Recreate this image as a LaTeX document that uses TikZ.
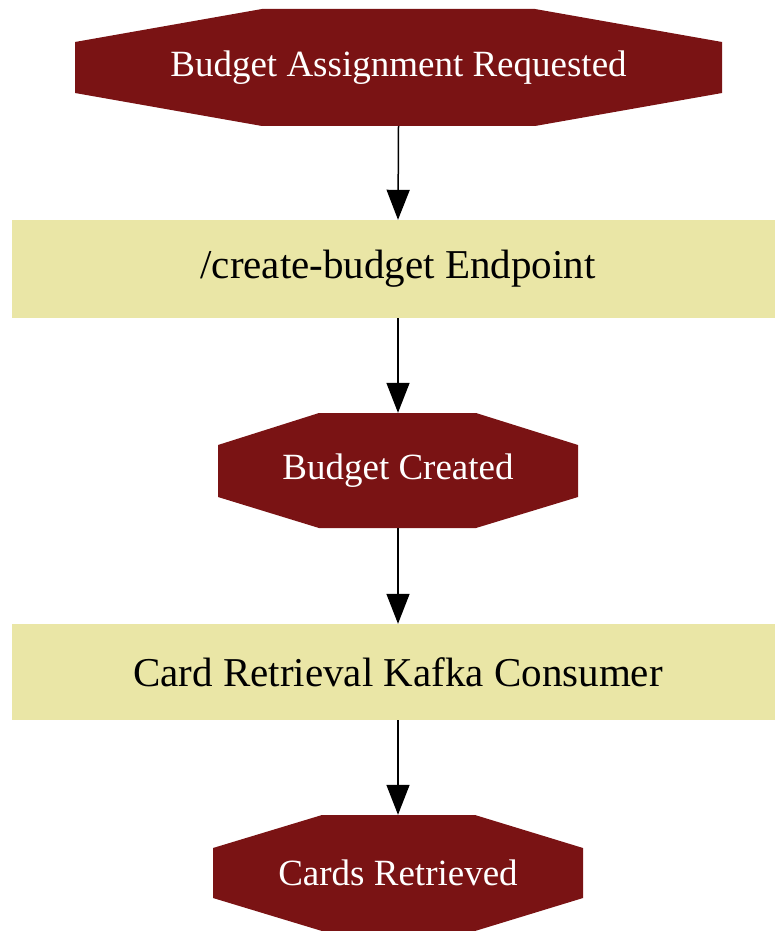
\documentclass[tikz,border=0pt]{standalone}
\usepackage{fontspec}
\setmainfont{Liberation Serif}
\usetikzlibrary{arrows.meta}
\definecolor{octred}{RGB}{122,19,20}
\definecolor{khaki}{RGB}{234,230,166}
\tikzset{
  octbox/.style={draw=none, inner sep=0pt, text=white, font=\fontsize{37}{40}\selectfont},
  rectbox/.style={draw=none, fill=khaki, inner sep=0pt, text=black, font=\fontsize{41}{44}\selectfont},
  arr/.style={draw=black, line width=1.5pt, -{Triangle[length=30pt,width=23pt]}}
}
\begin{document}
\begin{tikzpicture}[x=1pt,y=-1pt]
\useasboundingbox (0,0) rectangle (774,931);
% octagon shapes
\fill[octred] (75,42) -- (75,93) -- (262,126) -- (535,126) -- (722,93) -- (722,42) -- (535,9) -- (262,9) -- cycle;
\fill[octred] (218,445) -- (218,497) -- (319,528) -- (476,528) -- (578,497) -- (578,445) -- (476,413) -- (319,413) -- cycle;
\fill[octred] (213,848) -- (213,898) -- (322,931) -- (475,931) -- (583,898) -- (583,848) -- (475,815) -- (322,815) -- cycle;
% nodes
\node[octbox, minimum width=647pt, minimum height=117pt] (o1) at (398.5,67.5) {Budget Assignment Requested};
\node[rectbox, minimum width=772pt, minimum height=98pt] (r1) at (398,269) {/create-budget Endpoint};
\node[octbox, minimum width=360pt, minimum height=115pt] (o2) at (398,470.5) {Budget Created};
\node[rectbox, minimum width=772pt, minimum height=96pt] (r2) at (398,672) {Card Retrieval Kafka Consumer};
\node[octbox, minimum width=370pt, minimum height=116pt] (o3) at (398,873) {Cards Retrieved};
% connectors
\draw[arr] (o1.south) -- (r1.north);
\draw[arr] (r1.south) -- (o2.north);
\draw[arr] (o2.south) -- (r2.north);
\draw[arr] (r2.south) -- (o3.north);
\end{tikzpicture}
\end{document}
